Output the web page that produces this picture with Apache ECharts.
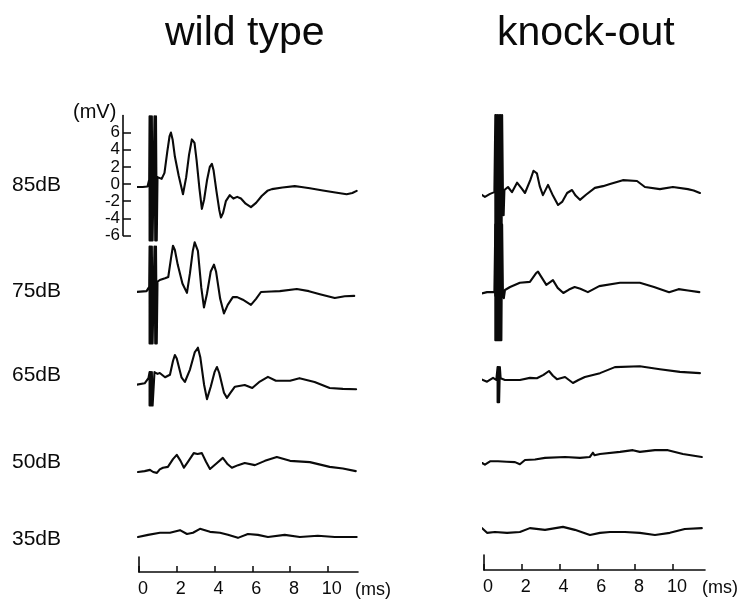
<!DOCTYPE html>
<html>
<head>
<meta charset="utf-8">
<script src="https://cdn.jsdelivr.net/npm/echarts@6/dist/echarts.min.js"></script>
<style>html,body{margin:0;padding:0;background:#fff;}#c{width:743px;height:604px;}</style>
</head>
<body>
<div id="c"></div>
<script>
// ---- data: time (ms), amplitude (mV) ----
const panelTitles = ['wild type', 'knock-out'];
const levels = ['85dB', '75dB', '65dB', '50dB', '35dB'];
const timeTicks = [0, 2, 4, 6, 8, 10];
const voltTicks = [-6, -4, -2, 0, 2, 4, 6];

// stimulus artifacts: stroke times (ms), [high, low] (mV)
const wtArtTimes = [0.56, 0.6, 0.64, 0.68, 0.72, 0.82, 0.86, 0.9, 0.94];
const koArtTimes = [0.6, 0.64, 0.68, 0.72, 0.76, 0.8, 0.84, 0.88, 0.92, 0.96];
const ko65ArtTimes = [0.72, 0.76, 0.8, 0.84];

const wt85pre = [[-0.2,-0.35],[0.2,-0.35],[0.45,-0.3],[0.54,0.5]];
const wt85art = [7.9, -6.6];
const wt85 = [[0.98,0.8],[1.05,1.0],[1.2,0.6],[1.35,1.3],[1.5,3.8],[1.62,5.6],[1.69,6.0],[1.78,5.2],[1.9,3.2],[2.1,1.0],[2.33,-1.2],[2.5,0.8],[2.65,3.4],[2.8,5.2],[2.86,5.4],[2.94,4.8],[3.05,2.8],[3.2,-0.5],[3.33,-2.9],[3.45,-1.8],[3.6,0.4],[3.75,2.0],[3.86,2.35],[3.95,1.6],[4.1,-0.8],[4.25,-3.0],[4.34,-3.9],[4.45,-3.4],[4.6,-2.0],[4.81,-1.3],[5.0,-1.7],[5.2,-1.5],[5.4,-1.7],[5.65,-2.3],[5.93,-2.7],[6.2,-2.2],[6.5,-1.4],[6.8,-0.8],[7.04,-0.6],[7.6,-0.4],[8.25,-0.25],[8.6,-0.35],[9.05,-0.5],[9.74,-0.75],[10.4,-1.0],[11.0,-1.2],[11.3,-1.05],[11.53,-0.8]];

const wt75pre = [[-0.2,0],[0.4,0.1],[0.54,0.6]];
const wt75art = [5.3, -6.0];
const wt75 = [[0.98,1.2],[1.1,1.4],[1.38,1.6],[1.55,1.75],[1.7,4.0],[1.8,5.4],[1.9,4.9],[2.05,3.2],[2.3,1.0],[2.54,-0.1],[2.7,2.2],[2.85,4.8],[2.95,5.8],[3.02,6.0],[3.12,4.8],[3.3,0.5],[3.44,-1.8],[3.6,-0.2],[3.8,2.4],[3.97,3.2],[4.08,2.4],[4.3,-0.8],[4.5,-2.5],[4.7,-1.5],[4.97,-0.6],[5.2,-0.6],[5.5,-0.9],[5.93,-1.5],[6.2,-0.8],[6.46,0],[7.0,0.05],[7.46,0.1],[8.36,0.35],[9.0,0.1],[9.58,-0.25],[10.37,-0.7],[10.9,-0.5],[11.4,-0.45]];

const wt65pre = [[-0.2,0],[0.3,0.2],[0.5,0.8]];
const wt65art = [1.5, -2.4];
const wt65 = [[0.98,1.3],[1.1,1.4],[1.38,0.9],[1.64,1.2],[1.8,2.8],[1.9,3.5],[2.0,3.1],[2.25,0.9],[2.43,0.35],[2.7,1.8],[2.95,3.8],[3.12,4.35],[3.25,3.2],[3.45,0.0],[3.6,-1.65],[3.8,-0.2],[4.0,1.5],[4.13,2.1],[4.25,1.4],[4.5,-0.9],[4.66,-1.5],[4.85,-0.9],[5.08,-0.2],[5.6,0],[6.0,-0.35],[6.4,0.4],[6.83,0.95],[7.25,0.5],[8.0,0.5],[8.5,0.8],[9.3,0.35],[10.1,-0.35],[10.8,-0.45],[11.5,-0.5]];

const wt50 = [[-0.05,0],[0.3,0.1],[0.58,0.25],[0.75,0.0],[0.95,-0.1],[1.1,0.3],[1.27,0.5],[1.53,0.6],[1.8,1.5],[2.0,2.0],[2.2,1.3],[2.38,0.5],[2.6,1.2],[2.9,2.2],[3.1,2.1],[3.33,2.2],[3.55,1.2],[3.76,0.35],[4.1,1.0],[4.44,1.65],[4.7,0.9],[4.92,0.5],[5.25,0.8],[5.6,1.05],[6.14,0.8],[6.67,1.3],[7.3,1.75],[8.0,1.3],[9.05,1.15],[10.1,0.6],[10.8,0.4],[11.48,0.1]];
const wt35 = [[-0.05,0],[0.48,0.25],[1.11,0.5],[1.64,0.5],[2.17,0.8],[2.54,0.35],[2.86,0.5],[3.23,0.95],[3.76,0.6],[4.29,0.5],[4.71,0.25],[5.24,-0.1],[5.77,0.35],[6.3,0.25],[6.83,0],[7.72,0.25],[8.52,0],[9.47,0.15],[10.37,0],[11.53,0]];

const ko85pre = [[-0.2,-0.1],[0.05,-0.45],[0.32,-0.1],[0.55,0.1]];
const ko85art = [9.1, -12];
const ko85 = [[1.0,0.3],[1.04,-2.6],[1.08,0.35],[1.27,0.7],[1.48,0.1],[1.75,1.2],[2.0,0.5],[2.17,0],[2.45,1.5],[2.62,2.6],[2.7,2.8],[2.8,2.3],[2.95,0.8],[3.12,-0.25],[3.39,0.95],[3.65,-0.3],[3.92,-1.4],[4.15,-1.0],[4.4,0.0],[4.66,0.35],[4.85,-0.3],[5.08,-0.8],[5.4,-0.2],[5.87,0.6],[6.3,0.8],[6.67,1.05],[7.35,1.5],[8.1,1.4],[8.52,0.7],[9.31,0.45],[10.0,0.7],[10.79,0.45],[11.1,0.3],[11.43,0]];

const ko75pre = [[-0.2,-0.1],[0.16,0.1],[0.55,0.1]];
const ko75art = [8, -5.5];
const ko75 = [[1.0,0.3],[1.05,-0.6],[1.11,0.35],[1.38,0.7],[1.9,1.2],[2.43,1.3],[2.75,2.3],[2.86,2.5],[3.0,2.0],[3.3,0.95],[3.65,1.5],[3.9,0.6],[4.2,0],[4.5,0.4],[4.8,0.7],[5.1,0.5],[5.5,0.1],[6.1,0.8],[7.2,1.2],[8.25,1.2],[9.0,0.7],[9.8,0.1],[10.3,0.45],[10.8,0.3],[11.4,0.1]];

const ko65pre = [[-0.16,0.1],[0.16,-0.2],[0.48,0.25],[0.65,0.0]];
const ko65art = [1.5, -2.6];
const ko65 = [[0.88,0.2],[1.11,0],[1.9,0],[2.43,0.25],[2.8,0.2],[3.15,0.6],[3.44,1.05],[3.65,0.5],[3.86,0.1],[4.29,0.35],[4.71,-0.35],[5.0,0],[5.34,0.35],[6.14,0.8],[6.93,1.5],[8.25,1.6],[9.31,1.25],[10.37,0.95],[11.43,0.8]];

const ko50 = [[-0.1,0],[0.05,-0.2],[0.32,0.2],[0.74,0.2],[1.2,0.15],[1.64,0.1],[1.9,-0.15],[2.17,0.35],[2.7,0.4],[3.23,0.6],[4.29,0.7],[5.08,0.6],[5.6,0.7],[5.77,1.2],[5.85,0.9],[6.14,1.05],[7.2,1.3],[7.88,1.5],[8.25,1.3],[9.05,1.5],[9.74,1.5],[10.53,1.05],[11.53,0.7]];
const ko35 = [[-0.1,0.45],[0.16,-0.1],[0.58,0],[1.22,-0.1],[1.9,0],[2.43,0.45],[3.23,0.25],[4.18,0.6],[4.81,0.25],[5.61,-0.35],[6.14,-0.1],[6.67,0],[7.46,0],[8.25,-0.1],[9.05,-0.35],[9.84,-0.1],[10.63,0.35],[11.53,0.45]];

// build full trace: pre-stimulus + artifact strokes + response
function withArtifact(pre, times, art, post) {
  const strokes = [];
  times.forEach((t, i) => {
    const a = i % 2 === 0 ? art[0] : art[1];
    const b = i % 2 === 0 ? art[1] : art[0];
    strokes.push([t, a], [t, b]);
  });
  return pre.concat(strokes, post);
}
const traces = [
  [withArtifact(wt85pre, wtArtTimes, wt85art, wt85), withArtifact(wt75pre, wtArtTimes, wt75art, wt75),
   withArtifact(wt65pre, wtArtTimes.slice(0, 6), wt65art, wt65), wt50, wt35],
  [withArtifact(ko85pre, koArtTimes, ko85art, ko85), withArtifact(ko75pre, koArtTimes, ko75art, ko75),
   withArtifact(ko65pre, ko65ArtTimes, ko65art, ko65), ko50, ko35]
];

// ---- layout ----
const FONT = '"Liberation Sans", Arial, sans-serif';
const INK = '#0a0a0a';
const PXMV = 8.57;           // px per mV
const V_MIN = -6, V_MAX = 8;
const panels = [
  {left: 139, width: 219, tmax: 11.6, zeros: [184, 292, 385, 472, 537], axisY: 572},
  {left: 484, width: 221, tmax: 11.7, zeros: [193, 293, 380, 463, 532], axisY: 570}
];
const labelCenters = [186, 292, 376, 463, 540];

const grid = [], xAxis = [], yAxis = [], series = [];
panels.forEach((p, pi) => {
  traces[pi].forEach((tr, ti) => {
    const idx = grid.length;
    grid.push({left: p.left, width: p.width, top: p.zeros[ti] - V_MAX * PXMV, height: (V_MAX - V_MIN) * PXMV});
    xAxis.push({gridIndex: idx, type: 'value', min: 0, max: p.tmax, show: false});
    yAxis.push({gridIndex: idx, type: 'value', min: V_MIN, max: V_MAX, show: false});
    series.push({
      type: 'line', xAxisIndex: idx, yAxisIndex: idx, data: tr,
      showSymbol: false, symbol: 'none', clip: false, silent: true,
      lineStyle: {color: INK, width: 2.1, join: 'round', cap: 'round'}
    });
  });
});
// voltage scale (wild type, 85dB row)
{
  const idx = grid.length;
  grid.push({left: 123, width: 10, top: panels[0].zeros[0] - V_MAX * PXMV, height: (V_MAX - V_MIN) * PXMV});
  xAxis.push({gridIndex: idx, type: 'value', min: 0, max: 1, show: false});
  yAxis.push({
    gridIndex: idx, type: 'value', min: V_MIN, max: V_MAX, interval: 2, position: 'left',
    axisLine: {show: true, lineStyle: {color: INK, width: 1.6}},
    axisTick: {show: true, inside: true, length: 8, lineStyle: {color: INK, width: 1.5}, customValues: voltTicks},
    axisLabel: {show: true, margin: 3, fontSize: 17, color: INK, fontFamily: FONT, customValues: voltTicks,
      hideOverlap: false, showMinLabel: true, formatter: v => (v > 6 ? '' : String(v))},
    splitLine: {show: false}
  });
}
// time axes
panels.forEach((p) => {
  const idx = grid.length;
  grid.push({left: p.left, width: p.width, top: p.axisY - 15, height: 15});
  xAxis.push({
    gridIndex: idx, type: 'value', min: 0, max: p.tmax, interval: 2,
    axisLine: {show: true, lineStyle: {color: INK, width: 1.6}},
    axisTick: {show: true, inside: true, length: 6, lineStyle: {color: INK, width: 1.5}, customValues: timeTicks},
    axisLabel: {show: true, margin: 8, fontSize: 18, color: INK, fontFamily: FONT, customValues: timeTicks, padding: [0, 0, 0, 8]},
    splitLine: {show: false},
    name: '(ms)', nameLocation: 'end', nameGap: -3,
    nameTextStyle: {fontSize: 18, color: INK, fontFamily: FONT, align: 'left', verticalAlign: 'top', padding: [9, 0, 0, 0]}
  });
  yAxis.push({
    gridIndex: idx, type: 'value', min: 0, max: 1,
    axisLine: {show: true, lineStyle: {color: INK, width: 1.6}},
    axisTick: {show: false}, axisLabel: {show: false}, splitLine: {show: false}
  });
});

const title = [
  {text: panelTitles[0], left: 165, top: 13, padding: 0, textStyle: {fontSize: 41, fontWeight: 'normal', color: INK, fontFamily: FONT}},
  {text: panelTitles[1], left: 497, top: 13, padding: 0, textStyle: {fontSize: 41, fontWeight: 'normal', color: INK, fontFamily: FONT}},
  {text: '(mV)', left: 73, top: 102, padding: 0, textStyle: {fontSize: 20, fontWeight: 'normal', color: INK, fontFamily: FONT}}
];
levels.forEach((l, i) => {
  title.push({text: l, left: 12, top: labelCenters[i] - 11, padding: 0,
    textStyle: {fontSize: 21, fontWeight: 'normal', color: INK, fontFamily: FONT}});
});

const chart = echarts.init(document.getElementById('c'), null, {renderer: 'canvas'});
chart.setOption({animation: false, backgroundColor: '#fff', title, grid, xAxis, yAxis, series});
</script>
</body>
</html>
